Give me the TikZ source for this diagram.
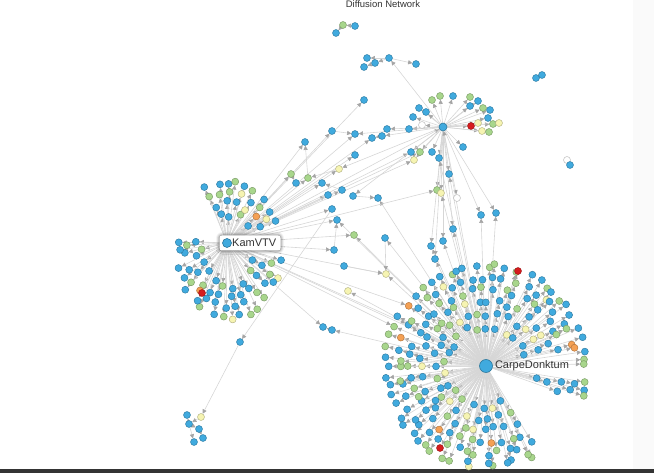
\documentclass[tikz,border=0pt]{standalone}
\usepackage{fontspec}
\setmainfont{Liberation Sans}
\usetikzlibrary{arrows.meta,positioning,shadows.blur}
\definecolor{dotblue}{RGB}{64,170,222}
\definecolor{dotgreen}{RGB}{168,214,140}
\definecolor{dotyellow}{RGB}{246,244,178}
\definecolor{dotorange}{RGB}{244,160,84}
\definecolor{dotred}{RGB}{214,28,30}
\definecolor{dotwhite}{RGB}{255,255,255}
\definecolor{edgegray}{RGB}{214,214,214}
\definecolor{tipgray}{RGB}{165,165,165}
\definecolor{labelgray}{RGB}{51,51,51}
\definecolor{bardark}{RGB}{52,52,52}
\definecolor{sidegray}{RGB}{250,250,250}

\pgfdeclarelayer{edges}
\pgfdeclarelayer{front}
\pgfsetlayers{edges,main,front}

\pgfmathdeclarerandomlist{dotcolors}{{dotblue}{dotblue}{dotblue}{dotblue}{dotblue}%
  {dotblue}{dotblue}{dotblue}{dotblue}{dotblue}{dotblue}{dotblue}{dotgreen}%
  {dotgreen}{dotgreen}{dotgreen}{dotgreen}{dotyellow}{dotyellow}{dotorange}}

\begin{document}
\begin{tikzpicture}[
  x=1pt, y=-1pt,
  dot/.style={circle, minimum size=7pt, inner sep=0pt, line width=0.45pt},
  hub/.style={circle, inner sep=0pt, fill=dotblue, draw=dotblue!70!black,
              line width=0.6pt},
  edge/.style={draw=edgegray, line width=0.6pt,
               -{Triangle[length=4.2pt, width=4.2pt, color=tipgray]}},
  hublabel/.style={font=\fontsize{11}{13}\selectfont, text=labelgray,
                   inner sep=1pt},
  labelbox/.style={rounded corners=2.5pt, fill=white, minimum width=61pt,
                   minimum height=15pt, inner sep=0pt,
                   blur shadow={shadow xshift=0pt, shadow yshift=0pt,
                                shadow blur radius=3.5pt, shadow opacity=70}},
  title/.style={font=\fontsize{9.5}{11}\selectfont, text=labelgray, inner sep=0pt}
]
\useasboundingbox (0,0) rectangle (654,473);
\pgfmathsetseed{4211}

% Rahmen
\fill[sidegray] (633,0) rectangle (654,469);
\fill[bardark] (0,469) rectangle (654,473);
\node[title, anchor=base] (title) at (383,8) {Diffusion Network};

% Knoten der drei Zentren
\begin{pgfonlayer}{front}
  \node[labelbox] (kbox) at (250,243) {};
  \node[hub, minimum size=9pt] (K) at (227,243) {};
  \node[hublabel, anchor=base west] (klabel) at (231,247) {KamVTV};
  \node[hub, minimum size=13pt] (C) at (486,366) {};
  \node[hublabel, right=1pt of C] (clabel) {CarpeDonktum};
  \node[hub, minimum size=8pt] (T) at (443,127) {};
\end{pgfonlayer}

% CarpeDonktum
\foreach \rad/\n in {40/22,52/28,64/34,76/41,88/47,100/54} {
  \foreach \i in {1,...,\n} {
    \pgfmathsetmacro\ang{58+(\i-0.5)/\n*324+3*rand}
    \pgfmathsetmacro\dr{\rad+3*rand}
    \pgfmathsetmacro\px{486+\dr*cos(\ang)}
    \pgfmathsetmacro\py{366+\dr*sin(\ang)}
    \pgfmathtruncatemacro\inbox{and(and(\px>488,\px<578),and(\py>355,\py<378))}
    \pgfmathrandomitem\dotcol{dotcolors}
    \ifnum\inbox=0
      \node[dot, fill=\dotcol, draw=\dotcol!72!black] (c-\rad-\i) at (\px,\py) {};
    \fi
  }
}
\node[dot, fill=dotred, draw=dotred!72!black] (cr1) at (518,271) {};
\node[dot, fill=dotred, draw=dotred!72!black] (cr2) at (440,448) {};

% KamVTV
\foreach \rad/\n in {36/15,47/19,58/23,69/28} {
  \foreach \i in {1,...,\n} {
    \pgfmathsetmacro\ang{240+(\i-0.5)/\n*315+4*rand}
    \pgfmathsetmacro\dr{\rad+3*rand}
    \pgfmathsetmacro\px{229+0.74*\dr*cos(\ang)}
    \pgfmathsetmacro\py{250+\dr*sin(\ang)}
    \pgfmathtruncatemacro\inbox{and(and(\px>213,\px<286),and(\py>229,\py<257))}
    \pgfmathrandomitem\dotcol{dotcolors}
    \ifnum\inbox=0
      \node[dot, fill=\dotcol, draw=\dotcol!72!black] (k-\rad-\i) at (\px,\py) {};
    \fi
  }
}
\node[dot, fill=dotred, draw=dotred!72!black] (kr1) at (202,293) {};

% oberes Zentrum
\foreach \name/\x/\y/\col in {tl1/432/100/dotgreen, tl2/440/96/dotgreen,
    tl3/453/96/dotblue, tl4/470/97/dotgreen, tl5/478/101/dotblue,
    tl6/470/106/dotblue, tl7/483/108/dotgreen, tl8/490/110/dotblue,
    tl9/488/118/dotblue, tl10/419/108/dotblue, tl11/426/112/dotblue,
    tl12/413/117/dotblue, tl13/409/129/dotblue, tl14/471/126/dotred,
    tl15/478/123/dotyellow, tl16/493/124/dotgreen, tl17/499/123/dotyellow,
    tl18/482/131/dotyellow, tl19/489/132/dotgreen, tl20/422/125/dotwhite,
    tb1/411/152/dotblue, tb2/420/152/dotgreen, tb3/414/160/dotyellow,
    tb4/432/152/dotblue, tb5/439/158/dotblue, tb6/449/174/dotblue,
    tb7/437/190/dotgreen, tb8/441/193/dotyellow, tb9/457/198/dotwhite,
    tb10/481/215/dotblue, tb11/496/213/dotblue, tb12/453/229/dotblue,
    tb13/443/241/dotblue, tb14/431/246/dotblue, tb15/435/259/dotblue,
    tb16/463/147/dotblue} {
  \node[dot, fill=\col, draw=\col!72!black] (\name) at (\x,\y) {};
}

% Zwischenknoten
\foreach \name/\x/\y/\col in {a1/336/33/dotblue, a2/343/25/dotgreen,
    a3/355/26/dotblue, b1/389/58/dotblue, b2/375/63/dotblue,
    b3/367/58/dotblue, b4/364/67/dotblue, b5/416/64/dotblue,
    b6/364/100/dotblue,
    m1/332/131/dotblue, m2/355/134/dotblue, m3/372/138/dotblue,
    m4/382/136/dotblue, m5/387/129/dotblue, m6/305/142/dotblue,
    m7/355/155/dotblue, m8/339/169/dotyellow, m9/291/174/dotgreen,
    m10/296/183/dotblue, m11/308/178/dotgreen, m12/322/183/dotblue,
    m13/328/195/dotblue, m14/342/190/dotblue, m15/353/196/dotblue,
    m16/378/198/dotblue, m17/332/209/dotblue, m18/337/220/dotblue,
    m19/354/235/dotgreen, m20/385/238/dotblue, m21/334/250/dotblue,
    m22/344/266/dotblue, m23/386/274/dotyellow, m24/348/291/dotyellow,
    m25/323/327/dotblue, m26/332/330/dotblue, m27/240/342/dotblue,
    g1/187/415/dotblue, g2/201/417/dotyellow, g3/189/424/dotblue,
    g4/199/429/dotblue, g5/203/438/dotblue, g6/194/442/dotblue,
    r1/536/78/dotblue, r2/542/75/dotblue, r3/567/160/dotwhite,
    r4/570/165/dotblue} {
  \node[dot, fill=\col, draw=\col!72!black] (\name) at (\x,\y) {};
}

% Verbindungen
\begin{pgfonlayer}{edges}
\foreach \rad/\n in {40/22,52/28,64/34,76/41,88/47,100/54} {
  \foreach \i in {1,...,\n} {
    \ifcsname pgf@sh@ns@c-\rad-\i\endcsname
      \draw[edge] (C) -- (c-\rad-\i);
    \fi
  }
}
\foreach \rad/\n in {36/15,47/19,58/23,69/28} {
  \foreach \i in {1,...,\n} {
    \ifcsname pgf@sh@ns@k-\rad-\i\endcsname
      \draw[edge] (K) -- (k-\rad-\i);
    \fi
  }
}
\foreach \to in {1,...,20} {
  \draw[edge] (T) -- (tl\to);
}
\foreach \to in {1,...,16} {
  \draw[edge] (T) -- (tb\to);
}
\foreach \from/\to in {C/T, C/tb6, C/tb8, C/tb10, C/tb11, C/tb12, C/tb13,
    C/tb14, C/tb15, C/tb5, C/m19, C/m23, C/m24, C/m26, C/m20, C/m18,
    C/m16, C/cr1, C/cr2,
    K/T, K/tb1, K/tb3, K/tb7, K/m1, K/b6, K/m6, K/m8, K/m9, K/m11,
    K/m12, K/m13, K/m17, K/m18, K/m19, K/m21, K/m25, K/m23, K/m7,
    K/m2, K/m14, K/m3, K/tb2, K/kr1,
    K/c-100-25, K/c-88-22, K/c-76-19, K/c-100-27,
    T/b1, T/m4, T/m5, T/m8, T/m2, T/m15,
    a3/a2, a2/a1, b1/b2, b2/b4, b1/b3, b1/b5, m1/m2, m4/m3, m11/m6,
    m8/m11, m9/m10, m14/m12, m15/m16, m21/m18, m20/m23, m22/m23,
    m26/m25, m17/m27, m27/g2, g2/g3, g3/g1, g3/g4, g4/g5, g3/g6,
    r2/r1, r4/r3} {
  \draw[edge] (\from) -- (\to);
}
\end{pgfonlayer}

\end{tikzpicture}
\end{document}
